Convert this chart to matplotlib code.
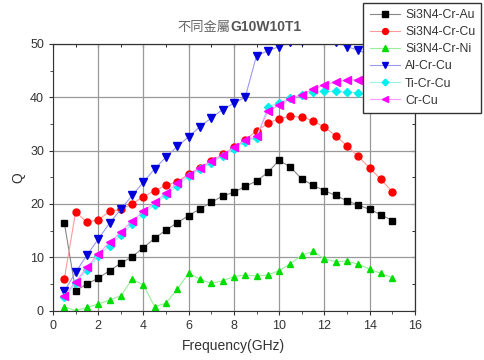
import numpy as np
import matplotlib.pyplot as plt

plt.rcParams['font.family'] = ['Liberation Sans', 'DejaVu Sans']

freq = np.arange(1, 31) * 0.5

q_au = [16.5, 3.75, 5.0, 6.1, 7.5, 8.9, 10.1, 11.8, 13.6, 15.1,
        16.5, 17.8, 19.1, 20.3, 21.5, 22.2, 23.3, 24.3, 25.9, 28.2,
        26.9, 24.7, 23.5, 22.5, 21.6, 20.6, 19.8, 19.0, 18.0, 16.9]
q_cu = [5.95, 18.5, 16.6, 17.0, 18.6, 19.0, 20.0, 21.4, 22.5, 23.5,
        24.2, 25.6, 26.8, 28.0, 29.3, 30.6, 32.0, 33.7, 35.1, 36.0,
        36.4, 36.3, 35.6, 34.4, 32.8, 30.9, 28.9, 26.8, 24.6, 22.3]
q_ni = [0.75, 0.0, 0.6, 1.25, 2.0, 2.8, 5.9, 4.8, 0.75, 1.4,
        4.1, 7.0, 5.9, 5.1, 5.6, 6.4, 6.7, 6.5, 6.7, 7.5,
        8.8, 10.4, 11.1, 9.7, 9.2, 9.3, 8.7, 7.8, 7.0, 6.2]
q_al = [3.6, 7.2, 10.4, 13.4, 16.4, 19.0, 21.6, 24.1, 26.6, 28.8,
        30.8, 32.6, 34.5, 36.1, 37.7, 38.9, 40.0, 47.8, 48.7, 49.5,
        50.3, 50.5, 51.5, 51.5, 50.3, 49.5, 48.8, 48.0, 47.0, 46.0]
q_ti = [2.5, 5.1, 7.7, 10.2, 12.2, 14.2, 16.2, 18.1, 19.9, 21.7,
        23.4, 25.2, 26.5, 27.7, 29.0, 30.3, 31.6, 32.4, 38.1, 39.0,
        39.8, 40.5, 41.0, 41.1, 41.1, 41.0, 40.8, 40.6, 40.4, 40.2]
q_crcu = [2.75, 5.4, 8.1, 10.6, 12.8, 14.7, 16.8, 18.6, 20.3, 22.1,
          23.9, 25.5, 26.8, 28.0, 29.2, 30.6, 31.9, 32.7, 37.4, 38.5,
          39.7, 40.5, 41.5, 42.3, 42.9, 43.2, 43.3, 43.4, 43.5, 43.6]

labels = ['Si3N4-Cr-Au', 'Si3N4-Cr-Cu', 'Si3N4-Cr-Ni', 'Al-Cr-Cu', 'Ti-Cr-Cu', 'Cr-Cu']
series = [q_au, q_cu, q_ni, q_al, q_ti, q_crcu]
markers = ['s', 'o', '^', 'v', 'D', '<']
colors = ['#000000', '#ff0000', '#00dd00', '#0000dd', '#00eeee', '#ff00ff']
line_colors = ['#888888', '#ff9999', '#99ee99', '#9999ee', '#99f0f0', '#ff99ff']
sizes = [4.5, 5, 5, 5.5, 4, 5.5]

fig = plt.figure(figsize=(4.84, 3.6), dpi=100)
ax = fig.add_axes([0.1095, 0.137, 0.7475, 0.741])

for y, lab, m, c, lc, s in zip(series, labels, markers, colors, line_colors, sizes):
    ax.plot(freq, y, '-', color=lc, lw=0.8, marker=m, ms=s, mfc=c, mec=c,
            label=lab)

ax.set_xlim(0, 16)
ax.set_ylim(0, 50)
ax.set_xticks(np.arange(0, 17, 2))
ax.set_yticks(np.arange(0, 51, 10))
ax.set_xticks(np.arange(1, 16, 2), minor=True)
ax.set_yticks(np.arange(5, 50, 10), minor=True)
ax.grid(True, which='major', color='#999999', lw=0.9)
ax.set_axisbelow(True)
ax.tick_params(which='both', direction='out', labelsize=9, colors='#333333',
               length=3)
ax.tick_params(which='minor', length=2)

# inward ticks on the top and right frame
top = ax.secondary_xaxis('top')
top.set_xticks(np.arange(0, 17, 2))
top.set_xticks(np.arange(1, 16, 2), minor=True)
top.tick_params(which='both', direction='in', labeltop=False, length=3)
top.tick_params(which='minor', length=2)
right = ax.secondary_yaxis('right')
right.set_yticks(np.arange(0, 51, 10))
right.set_yticks(np.arange(5, 50, 10), minor=True)
right.tick_params(which='both', direction='in', labelright=False, length=3)
right.tick_params(which='minor', length=2)

for sp in ax.spines.values():
    sp.set_color('#333333')

ax.set_xlabel('Frequency(GHz)', fontsize=10, color='#333333', labelpad=5)
ax.set_ylabel('Q', fontsize=10, color='#333333', labelpad=3)

fig.text(0.477, 0.925, '不同金屬', ha='right', va='center', fontsize=9.5,
         color='#666666', family=['Noto Sans CJK TC', 'DejaVu Sans'])
fig.text(0.477, 0.925, 'G10W10T1', ha='left', va='center', fontsize=10,
         color='#555555', fontweight='bold')

leg = fig.legend(loc='upper left', bbox_to_anchor=(0.751, 0.992), fontsize=8.8,
                 frameon=True, fancybox=False, framealpha=1, edgecolor='#333333',
                 handlelength=2.5, labelspacing=0.42, borderpad=0.5,
                 handletextpad=0.4, borderaxespad=0, markerscale=0.85)
leg.get_frame().set_linewidth(1.0)
for t in leg.get_texts():
    t.set_color('#333333')

fig.savefig('out.png', dpi=100)
